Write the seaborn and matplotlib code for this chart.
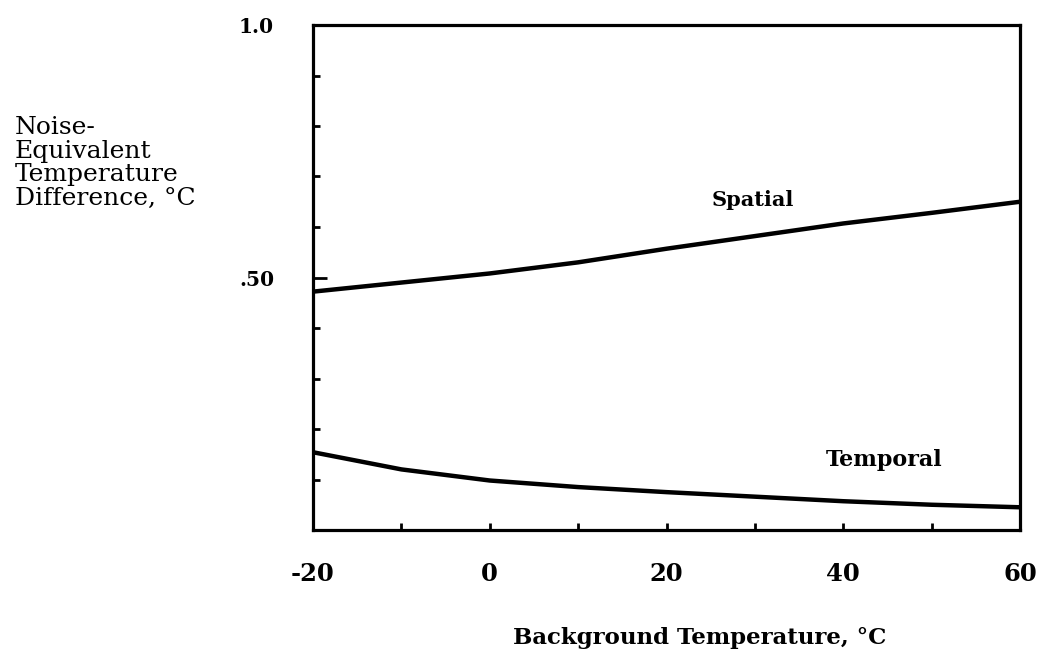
import numpy as np
import pandas as pd
import matplotlib
matplotlib.use("Agg")
import matplotlib.pyplot as plt
from matplotlib.ticker import MultipleLocator, FixedLocator
import seaborn as sns

# Data
temperature = [-20, -10, 0, 10, 20, 30, 40, 50, 60]
spatial = [0.472, 0.490, 0.508, 0.530, 0.557, 0.582, 0.607, 0.628, 0.650]
temporal = [0.154, 0.120, 0.098, 0.085, 0.075, 0.066, 0.057, 0.050, 0.045]
x_ticks = [-20, 0, 20, 40, 60]
y_ticks = [0.5, 1.0]
y_ticklabels = [".50", "1.0"]

sns.set_style("ticks")
plt.rcParams['font.family'] = ['DejaVu Serif']
plt.rcParams['text.color'] = 'black'
plt.rcParams['axes.labelcolor'] = 'black'
plt.rcParams['xtick.color'] = 'black'
plt.rcParams['ytick.color'] = 'black'

df = pd.DataFrame({
    "temp": temperature * 2,
    "value": spatial + temporal,
    "series": ["Spatial"] * len(temperature) + ["Temporal"] * len(temperature),
})

fig = plt.figure(figsize=(10.5, 6.59), dpi=100)
ax = fig.add_axes([313 / 1050, 1 - 530 / 659, 707 / 1050, 505 / 659])

sns.lineplot(data=df, x="temp", y="value", units="series", estimator=None,
             color="black", linewidth=3.2, ax=ax, legend=False)

ax.set_xlim(-20, 60)
ax.set_ylim(0, 1.0)

for s in ax.spines.values():
    s.set_visible(True)
    s.set_linewidth(2.3)
    s.set_color("black")

ax.xaxis.set_major_locator(FixedLocator(x_ticks))
ax.xaxis.set_minor_locator(MultipleLocator(10))
ax.set_xticklabels([str(v) for v in x_ticks], fontsize=17.5, fontweight="bold")
ax.tick_params(axis="x", which="both", direction="in", length=5, width=2, pad=23)

ax.yaxis.set_major_locator(FixedLocator(y_ticks))
ax.yaxis.set_minor_locator(MultipleLocator(0.1))
ax.set_yticklabels(y_ticklabels, fontsize=14.5, fontweight="bold")
ax.tick_params(axis="y", which="major", direction="in", length=10, width=2, pad=28)
ax.tick_params(axis="y", which="minor", direction="in", length=5, width=2)

ax.set_xlabel("Background Temperature, °C", fontsize=16.5, fontweight="bold", color="black")
ax.xaxis.set_label_coords((700 - 313) / 707, (530 - 638) / 505)
ax.xaxis.label.set_va("center")

ax.set_ylabel("Noise-\nEquivalent\nTemperature\nDifference, °C", fontsize=18,
              rotation=0, ha="left", va="center", linespacing=1.03, color="black")
ax.yaxis.set_label_coords((15 - 313) / 707, (530 - 163) / 505)

ax.text(29.8, 0.653, "Spatial", fontsize=15, fontweight="bold", ha="center", va="center", color="black")
ax.text(44.6, 0.139, "Temporal", fontsize=16, fontweight="bold", ha="center", va="center", color="black")

fig.savefig("out.png", dpi=100)
